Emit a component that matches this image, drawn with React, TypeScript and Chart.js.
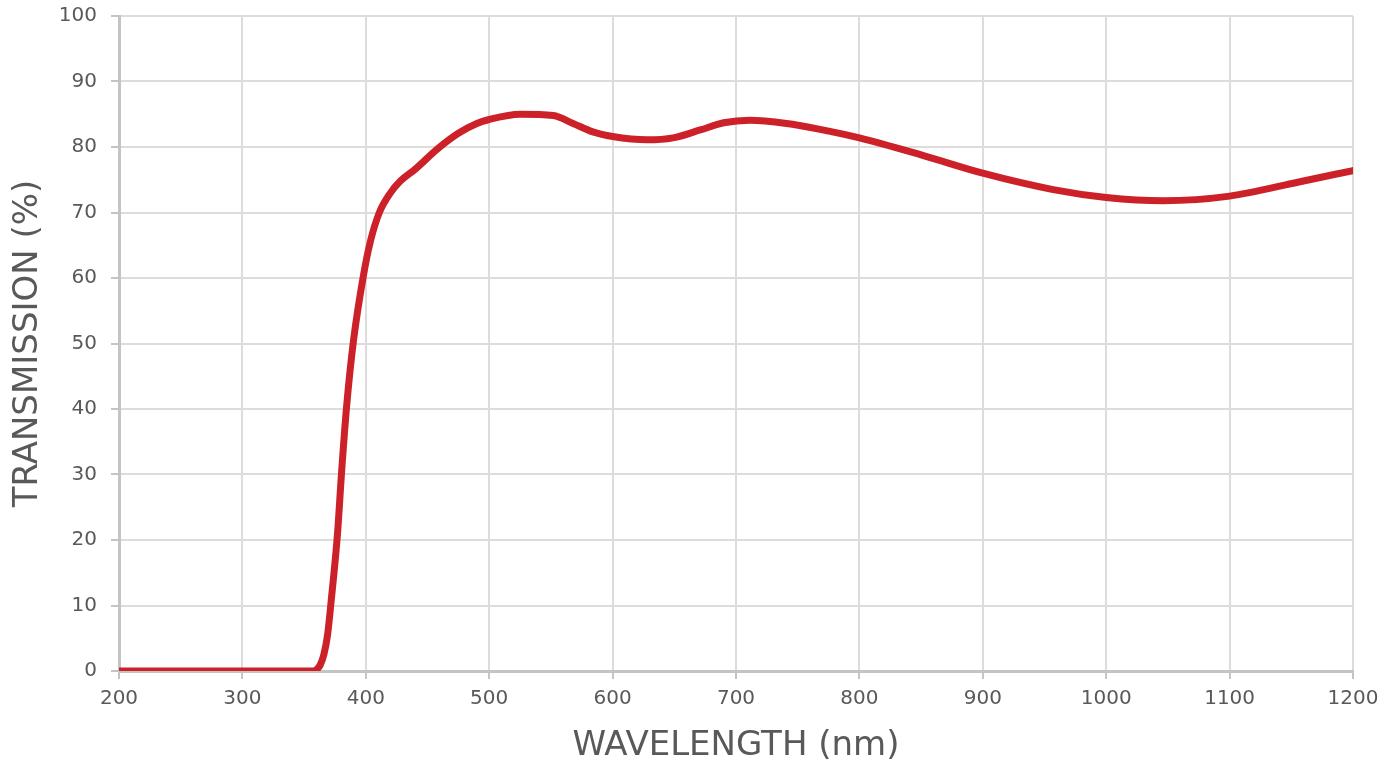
import React, { useEffect, useRef } from "react";
import { Chart, registerables } from "chart.js";

Chart.register(...registerables);

const wavelengths: number[] = [
  200, 300, 350, 357, 360, 363, 366, 369, 372, 377, 380.5, 384.5, 390, 398, 404, 411, 420, 428,
  440, 458, 475, 490, 500, 525, 552, 568, 584, 600, 628, 649, 671, 690, 711, 741, 768,
  800, 850, 900, 957, 1000, 1046, 1100, 1157, 1200,
];
const transmission: number[] = [
  0, 0, 0, 0, 0.2, 0.9, 2.5, 5.5, 10.8, 20.8, 30.7, 40.5, 50.4, 60.3, 65.8, 70.0, 73.0, 74.8,
  76.6, 79.7, 82.1, 83.6, 84.2, 85.0, 84.8, 83.6, 82.3, 81.6, 81.1, 81.4, 82.6, 83.7, 84.1, 83.6, 82.7,
  81.4, 78.8, 76.0, 73.5, 72.3, 71.8, 72.5, 74.7, 76.4,
];

const xTitle = "WAVELENGTH (nm)";
const yTitle = "TRANSMISSION (%)";

const FONT = "'DejaVu Sans', sans-serif";

export default function App() {
  const ref = useRef<HTMLCanvasElement>(null);
  useEffect(() => {
    if (!ref.current) return;
    const points = wavelengths.map((x, i) => ({ x, y: transmission[i] }));
    const chart = new Chart(ref.current, {
      type: "line",
      data: {
        datasets: [
          {
            data: points,
            borderColor: "#cc2129",
            borderWidth: 7,
            pointRadius: 0,
            fill: false,
            cubicInterpolationMode: "monotone",
            borderCapStyle: "round",
            borderJoinStyle: "round",
          },
        ],
      },
      options: {
        animation: false,
        responsive: false,
        maintainAspectRatio: false,
        layout: { padding: { left: 0, top: 16, right: 44, bottom: 0 } },
        plugins: { legend: { display: false }, tooltip: { enabled: false } },
        scales: {
          x: {
            type: "linear",
            min: 200,
            max: 1200,
            afterFit: (s: any) => {
              s.height = 98;
              s.paddingLeft = 0;
              s.paddingRight = 0;
            },
            ticks: {
              stepSize: 100,
              color: "#595959",
              font: { family: FONT, size: 20 },
              padding: 8,
              maxRotation: 0,
              callback: (v: any) => String(v),
            },
            grid: {
              color: "#dcdcdc",
              lineWidth: 2,
              tickLength: 8,
              tickColor: "#c4c4c4",
              tickWidth: 2,
            },
            border: { color: "#c4c4c4", width: 3 },
            title: {
              display: true,
              text: xTitle,
              color: "#595959",
              font: { family: FONT, size: 34 },
              padding: { top: 0, bottom: 2 },
            },
          },
          y: {
            type: "linear",
            min: 0,
            max: 100,
            afterFit: (s: any) => {
              s.width = 119;
              s.paddingTop = 0;
              s.paddingBottom = 0;
            },
            ticks: {
              stepSize: 10,
              color: "#595959",
              font: { family: FONT, size: 20 },
              padding: 14,
              callback: (v: any) => String(v),
            },
            grid: {
              color: "#dcdcdc",
              lineWidth: 2,
              tickLength: 8,
              tickColor: "#c4c4c4",
              tickWidth: 2,
            },
            border: { color: "#c4c4c4", width: 3 },
            title: {
              display: true,
              text: yTitle,
              color: "#595959",
              font: { family: FONT, size: 34 },
              padding: { top: 8, bottom: 0 },
            },
          },
        },
      },
    });
    return () => chart.destroy();
  }, []);
  return (
    <div style={{ position: "fixed", left: 0, top: 0, width: 1397, height: 769, background: "#fff" }}>
      <canvas ref={ref} width={1397} height={769} style={{ display: "block" }} />
    </div>
  );
}
